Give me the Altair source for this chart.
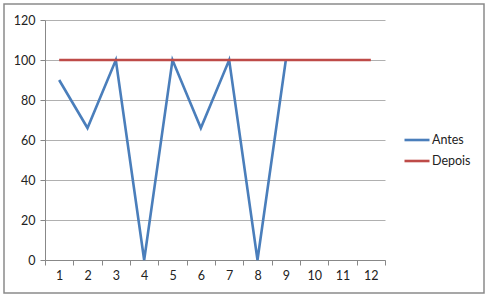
import altair as alt
import pandas as pd

categories = [str(i) for i in range(1, 13)]
antes = [90, 66, 100, 0, 100, 66, 100, 0, 100]
depois = [100] * 12
series_names = ["Antes", "Depois"]
colors = ["#4a7ebb", "#be4b48"]

rows = []
for c, v in zip(categories, antes):
    rows.append({"cat": c, "value": v, "series": "Antes"})
for c, v in zip(categories, depois):
    rows.append({"cat": c, "value": v, "series": "Depois"})
df = pd.DataFrame(rows)

FONT = "Lato"

lines = alt.Chart(df).mark_line(strokeWidth=2.6).encode(
    x=alt.X("cat:O", sort=categories, bandPosition=0.5,
            scale=alt.Scale(type="band", paddingInner=0, paddingOuter=0, domain=categories),
            axis=alt.Axis(title=None, labelAngle=0, tickBand="extent", grid=False,
                          domainColor="#888888", tickColor="#888888", tickSize=5,
                          labelPadding=4, labelFontSize=12.5, labelColor="#222222",
                          labelFont=FONT)),
    y=alt.Y("value:Q", scale=alt.Scale(domain=[0, 120], nice=False),
            axis=alt.Axis(title=None, values=[0, 20, 40, 60, 80, 100, 120],
                          grid=True, gridColor="#b0b0b0", domainColor="#888888",
                          tickColor="#888888", tickSize=5, labelPadding=5,
                          labelFontSize=12.5, labelColor="#222222", labelFont=FONT)),
    color=alt.Color("series:N", scale=alt.Scale(domain=series_names, range=colors),
                    legend=alt.Legend(title=None, orient="none", legendX=358, legendY=106,
                                      symbolType="stroke", symbolSize=625,
                                      symbolStrokeWidth=2.6, labelFont=FONT,
                                      labelFontSize=12.5, labelColor="#222222",
                                      rowPadding=0, labelOffset=1)),
    order=alt.Order("series:N"),
)

border = alt.Chart(pd.DataFrame({"a": [0]})).mark_rect(
    fill=None, stroke="#8a8a8a", strokeWidth=1.5
).encode(
    x=alt.value(-41), x2=alt.value(439), y=alt.value(-16), y2=alt.value(273)
)

chart = alt.layer(border, lines).properties(
    width=340, height=240,
    padding={"left": 45, "top": 20, "right": 103, "bottom": 38},
    autosize=alt.AutoSizeParams(type="none"),
    background="white",
).configure_view(stroke=None)

chart.save("out.html", embed_options={"renderer": "svg", "actions": False})
